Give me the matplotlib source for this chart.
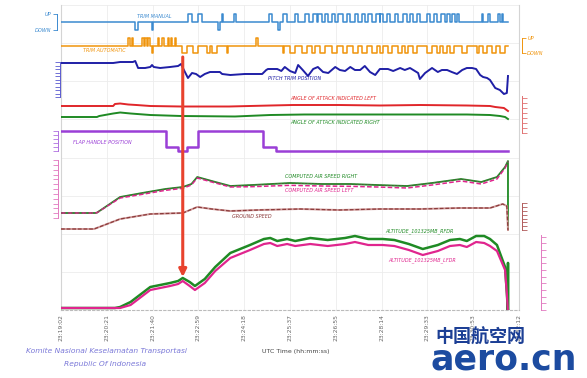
import numpy as np
import matplotlib.pyplot as plt
from matplotlib.transforms import blended_transform_factory

W, H = 587, 378

# x axis: seconds after 23:19:02
tick_labels = ['23:19:02', '23:20:21', '23:21:40', '23:22:59', '23:24:18', '23:25:37',
               '23:26:55', '23:28:14', '23:29:33', '23:30:53', '23:32:12']
tick_step = 79

# trim switches: (start s, end s, +1 up / -1 down)
trim_manual = [(128, 133, -1), (157, 159, -1), (219, 226, 1), (236, 243, 1), (271, 274, -1),
               (277, 279, 1), (299, 301, 1), (359, 364, 1), (374, 378, -1), (383, 390, 1),
               (404, 409, 1), (421, 428, 1), (435, 442, 1), (443, 450, 1), (455, 461, 1),
               (467, 473, 1), (478, 486, 1), (493, 499, 1), (507, 512, 1), (519, 524, 1),
               (530, 536, 1), (543, 550, 1), (551, 555, 1), (562, 568, 1), (576, 581, 1),
               (590, 597, 1), (602, 607, 1), (614, 619, 1), (631, 637, 1), (643, 649, 1),
               (655, 662, 1), (666, 671, 1), (674, 680, 1), (683, 687, 1), (726, 728, 1),
               (737, 740, 1), (754, 757, 1), (761, 762, 1)]
trim_auto = [(116, 119, 1), (122, 124, 1), (140, 143, 1), (145, 148, 1), (150, 154, 1),
             (157, 159, -1), (167, 169, 1), (175, 177, 1), (184, 186, 1), (190, 192, 1),
             (196, 198, 1), (209, 217, -1), (228, 236, -1), (252, 257, -1), (260, 269, -1),
             (286, 288, -1), (337, 339, 1), (383, 385, -1), (395, 404, -1), (416, 424, -1),
             (433, 438, -1), (447, 455, -1), (467, 476, -1), (486, 493, -1), (504, 512, -1),
             (519, 528, -1), (536, 545, -1), (550, 555, -1), (564, 571, -1), (581, 588, -1),
             (593, 599, -1), (607, 614, -1), (631, 640, -1), (649, 654, -1), (659, 666, -1),
             (671, 678, -1), (692, 700, -1), (718, 721, -1), (728, 735, -1), (743, 750, -1),
             (757, 766, -1)]
t_end = 771

# pitch trim position (units)
pt_t = [0, 90, 102, 124, 128, 133, 145, 154, 157, 160, 171, 188, 202, 207, 212, 219, 226, 233,
        240, 248, 257, 274, 278, 292, 317, 347, 354, 357, 373, 380, 386, 395, 404, 409, 417,
        426, 435, 443, 452, 461, 473, 481, 490, 499, 507, 516, 524, 533, 542, 550, 564, 573,
        585, 593, 602, 616, 619, 628, 640, 650, 657, 666, 674, 683, 692, 700, 709, 716, 723,
        728, 735, 740, 749, 757, 764, 769, 771]
pt_v = [7.0, 7.0, 7.2, 7.2, 7.4, 6.0, 6.0, 6.2, 6.6, 6.2, 6.0, 6.2, 6.4, 6.8, 5.6, 4.0, 5.0, 4.8,
        4.2, 4.8, 5.2, 5.2, 4.8, 4.6, 4.8, 4.8, 5.6, 5.8, 5.8, 5.4, 6.2, 5.4, 5.0, 6.6, 5.6,
        4.4, 5.8, 6.2, 5.2, 5.0, 6.2, 5.6, 5.4, 6.2, 5.6, 5.6, 6.4, 5.2, 4.6, 5.8, 5.8, 5.4,
        6.0, 5.6, 6.0, 5.0, 3.8, 5.0, 6.0, 5.2, 5.6, 5.6, 5.2, 4.8, 5.6, 6.0, 6.0, 5.8, 4.6,
        4.2, 4.0, 3.6, 2.0, 1.6, 0.8, 1.0, 4.4]

# angle of attack (deg)
aoa_l_t = [0, 90, 93, 102, 116, 130, 154, 207, 260, 290, 361, 400, 480, 550, 620, 700, 740, 749, 764, 771]
aoa_l_v = [28, 28, 32, 33, 31, 30, 28, 27, 27, 27, 29, 30, 30, 29, 30, 29, 28, 26, 24, 18]
aoa_r_t = [0, 62, 66, 90, 102, 120, 154, 207, 300, 361, 420, 500, 600, 700, 740, 757, 766, 771]
aoa_r_v = [6, 6, 8, 13, 15, 13, 10, 8, 7, 10, 11, 11, 11, 11, 10, 8, 6, 2]

# flap handle (deg)
flap_t = [0, 181, 202, 217, 236, 348, 371, 771]
flap_v = [5, 1, 0, 1, 5, 1, 0, 0]

# computed airspeed (kt)
cas_t = [0, 59, 62, 102, 140, 180, 210, 225, 235, 260, 292, 330, 395, 450, 499, 545, 597,
         640, 690, 725, 752, 766, 771]
cas_r = [102, 102, 104, 198, 222, 246, 258, 276, 318, 294, 264, 270, 282, 276, 276, 270, 264,
         282, 306, 288, 318, 378, 414]
cas_l = [102, 102, 104, 192, 214, 238, 250, 270, 312, 288, 258, 260, 268, 264, 262, 258, 252,
         270, 294, 276, 306, 372, 410]

# ground speed (kt)
gs_t = [0, 57, 102, 154, 210, 235, 260, 292, 340, 412, 480, 550, 620, 688, 740, 762, 769, 771]
gs_v = [105, 105, 155, 180, 185, 215, 205, 195, 200, 205, 200, 205, 205, 210, 210, 230, 220, 100]

# pressure altitude (ft)
alt_t = [0, 93, 102, 120, 154, 188, 202, 210, 222, 231, 248, 266, 292, 326, 350, 361, 373, 390,
         404, 430, 460, 490, 507, 530, 555, 575, 600, 624, 650, 671, 688, 700, 716, 730, 740,
         752, 766, 769, 771]
alt_r = [150, 150, 225, 600, 1725, 2025, 2175, 2400, 2100, 1800, 2325, 3225, 4275, 4875, 5325,
         5400, 5175, 5325, 5175, 5400, 5250, 5400, 5550, 5325, 5325, 5250, 4950, 4575, 4875,
         5250, 5325, 5175, 5550, 5550, 5325, 4875, 3225, 1275, -150]
alt_l = [150, 150, 150, 375, 1500, 1800, 1950, 2175, 1800, 1500, 2025, 2925, 3900, 4500, 4950,
         5025, 4800, 4950, 4800, 4950, 4800, 4950, 5100, 4875, 4875, 4800, 4500, 4125, 4425,
         4800, 4875, 4725, 5100, 5025, 4800, 4425, 3000, 1275, -150]


def steps(events):
    t, v = [0], [0]
    for a, b, d in events:
        t += [a, a, b, b]
        v += [0, d, d, 0]
    return t + [t_end], v + [0]


plt.rcParams['font.family'] = ['DejaVu Sans', 'Noto Sans CJK SC']
fig = plt.figure(figsize=(W / 100, H / 100), dpi=100)
rect = [61 / W, 1 - 310 / H, 458 / W, 305 / H]
xmax = 10 * tick_step

ax = fig.add_axes(rect)
ax.set_xlim(0, xmax)
ax.set_ylim(0, 1)
ax.set_xticks(np.arange(11) * tick_step)
ax.set_xticklabels(tick_labels, rotation=90, fontsize=4.3, color='#666666')
ax.set_yticks(np.linspace(0, 1, 9))
ax.tick_params(axis='y', left=False, labelleft=False)
ax.tick_params(axis='x', length=0, pad=3)
ax.grid(color='#ececec', lw=0.6)
ax.spines['top'].set_visible(False)
for s in ['left', 'right']:
    ax.spines[s].set_color('#d4d4d4')
ax.spines['bottom'].set_color('#bbbbbb')
ax.spines['bottom'].set_linestyle((0, (2, 2)))


def layer(y_px, value, px_per_unit):
    a = fig.add_axes(rect)
    a.set_xlim(0, xmax)
    lo = value - (310 - y_px) / px_per_unit
    a.set_ylim(lo, lo + 305 / px_per_unit)
    a.patch.set_visible(False)
    for s in a.spines.values():
        s.set_visible(False)
    a.set_xticks([])
    a.set_yticks([])
    return a


def scale(a, side, lo, hi, ticks, color, offset=1, labels=None, length=3.5):
    sp = a.spines[side]
    sp.set_visible(True)
    sp.set_bounds(lo, hi)
    sp.set_color(color)
    sp.set_linewidth(0.7)
    sp.set_position(('outward', offset))
    a.yaxis.set_ticks_position(side)
    a.set_yticks(ticks)
    a.tick_params(axis='y', colors=color, length=length, width=0.6, labelsize=3.6, pad=1)
    if labels:
        a.set_yticklabels(labels, style='italic')
    else:
        a.set_yticklabels([])


c_tm, c_ta, c_pt = '#3b8ad0', '#f0940c', '#1f1fa6'
c_red, c_grn, c_flap = '#e0262a', '#1f8a24', '#9a3fd6'
c_mag, c_gs, c_scale = '#e0258e', '#8c3b3b', '#e27ac0'

a = layer(22, 0, 8)
a.plot(*steps(trim_manual), color=c_tm, lw=1.1)
scale(a, 'left', -1, 1, [-1, 1], c_tm, offset=3, labels=['DOWN', 'UP'], length=3)

a = layer(46, 0, 7.5)
a.plot(*steps(trim_auto), color=c_ta, lw=1.1)
scale(a, 'right', -1, 1, [-1, 1], c_ta, offset=2, labels=['DOWN', 'UP'], length=3)

a = layer(63, 7.0, 5)
a.plot(pt_t, pt_v, color=c_pt, lw=1.4)
scale(a, 'left', 0.2, 7.2, np.arange(0.2, 7.3, 0.7), '#5a5ad0', offset=1)

a = layer(120, 0, 0.5)
a.plot(aoa_l_t, aoa_l_v, color=c_red, lw=1.4)
a.plot(aoa_r_t, aoa_r_v, color=c_grn, lw=1.4)
scale(a, 'right', -26, 48, np.arange(-26, 49, 10), '#e07070', offset=2)

a = layer(151, 0, 4)
a.plot(flap_t, flap_v, color=c_flap, lw=1.8, drawstyle='steps-post')
scale(a, 'left', 0, 5, np.arange(0, 6), '#b070e0', offset=2)

a = layer(230, 0, 1 / 6)
a.plot(cas_t + [t_end], cas_r + [0], color=c_grn, lw=1.3)
a.plot(cas_t, cas_l, color=c_mag, lw=1.1, ls=(0, (3, 1.5)))
a.plot(cas_t, cas_r, color='#6d5a50', lw=0.6, ls=(0, (2, 2)))
scale(a, 'left', 72, 420, np.arange(72, 421, 29), c_scale, offset=2)

a = layer(250, 0, 1 / 5)
a.plot(gs_t, gs_v, color='#d09a9a', lw=1.4)
a.plot(gs_t, gs_v, color=c_gs, lw=0.9, ls=(0, (3, 1.5)))
scale(a, 'right', 100, 235, np.arange(100, 236, 19), '#b05a5a', offset=2)

a = layer(310, 0, 1 / 75)
a.plot(alt_t + [t_end, t_end], alt_r + [3525, -150], color=c_grn, lw=1.8)
a.plot(alt_t, alt_l, color=c_mag, lw=1.6)
scale(a, 'right', 0, 5625, np.arange(0, 5626, 500), c_scale, offset=16)

# labels and arrow on a top overlay
top = layer(310, 0, 305)
tr = blended_transform_factory(top.transData, top.transAxes)
labels = [('TRIM MANUAL', 131, 16, c_tm), ('TRIM AUTOMATIC', 38, 51, c_ta),
          ('PITCH TRIM POSITION', 357, 79, c_pt),
          ('ANGLE OF ATTACK INDICATED LEFT', 395, 99, c_red),
          ('ANGLE OF ATTACK INDICATED RIGHT', 395, 123, c_grn),
          ('FLAP HANDLE POSITION', 21, 142, c_flap),
          ('COMPUTED AIR SPEED RIGHT', 386, 176, c_grn),
          ('COMPUTED AIR SPEED LEFT', 386, 191, c_mag),
          ('GROUND SPEED', 295, 216, c_gs),
          ('ALTITUDE_101325MB_RFDR', 559, 231, c_grn),
          ('ALTITUDE_101325MB_LFDR', 564, 260, c_mag)]
for txt, t, ypx, col in labels:
    top.text(t, (310 - ypx) / 305, txt, transform=tr, fontsize=3.5, style='italic',
             color=col, va='center', ha='left')

top.annotate('', xy=(210, (310 - 277) / 305), xytext=(210, (310 - 57) / 305),
             xycoords=tr, textcoords=tr,
             arrowprops=dict(arrowstyle='-|>', color='#e8432e', lw=2.2,
                             mutation_scale=11, shrinkA=0, shrinkB=0))

fig.text(296 / W, 1 - 351 / H, 'UTC Time (hh:mm:ss)', fontsize=4.5, color='#444444',
         ha='center', va='center')
fig.text(107 / W, 1 - 351 / H, 'Komite Nasional Keselamatan Transportasi', fontsize=5.4,
         style='italic', color='#7a78d8', ha='center', va='center')
fig.text(105 / W, 1 - 364 / H, 'Republic Of Indonesia', fontsize=5.4,
         style='italic', color='#7a78d8', ha='center', va='center')
fig.text(435 / W, 1 - 337 / H, '中国航空网', fontsize=13, fontweight='bold',
         family=['Noto Sans CJK SC'], color='#1c3f95', ha='left', va='center')
fig.text(430 / W, 1 - 359 / H, 'aero.cn', fontsize=25, fontweight='heavy',
         color='#1c4ba0', ha='left', va='center')

fig.savefig('out.png', dpi=100, facecolor='white')
